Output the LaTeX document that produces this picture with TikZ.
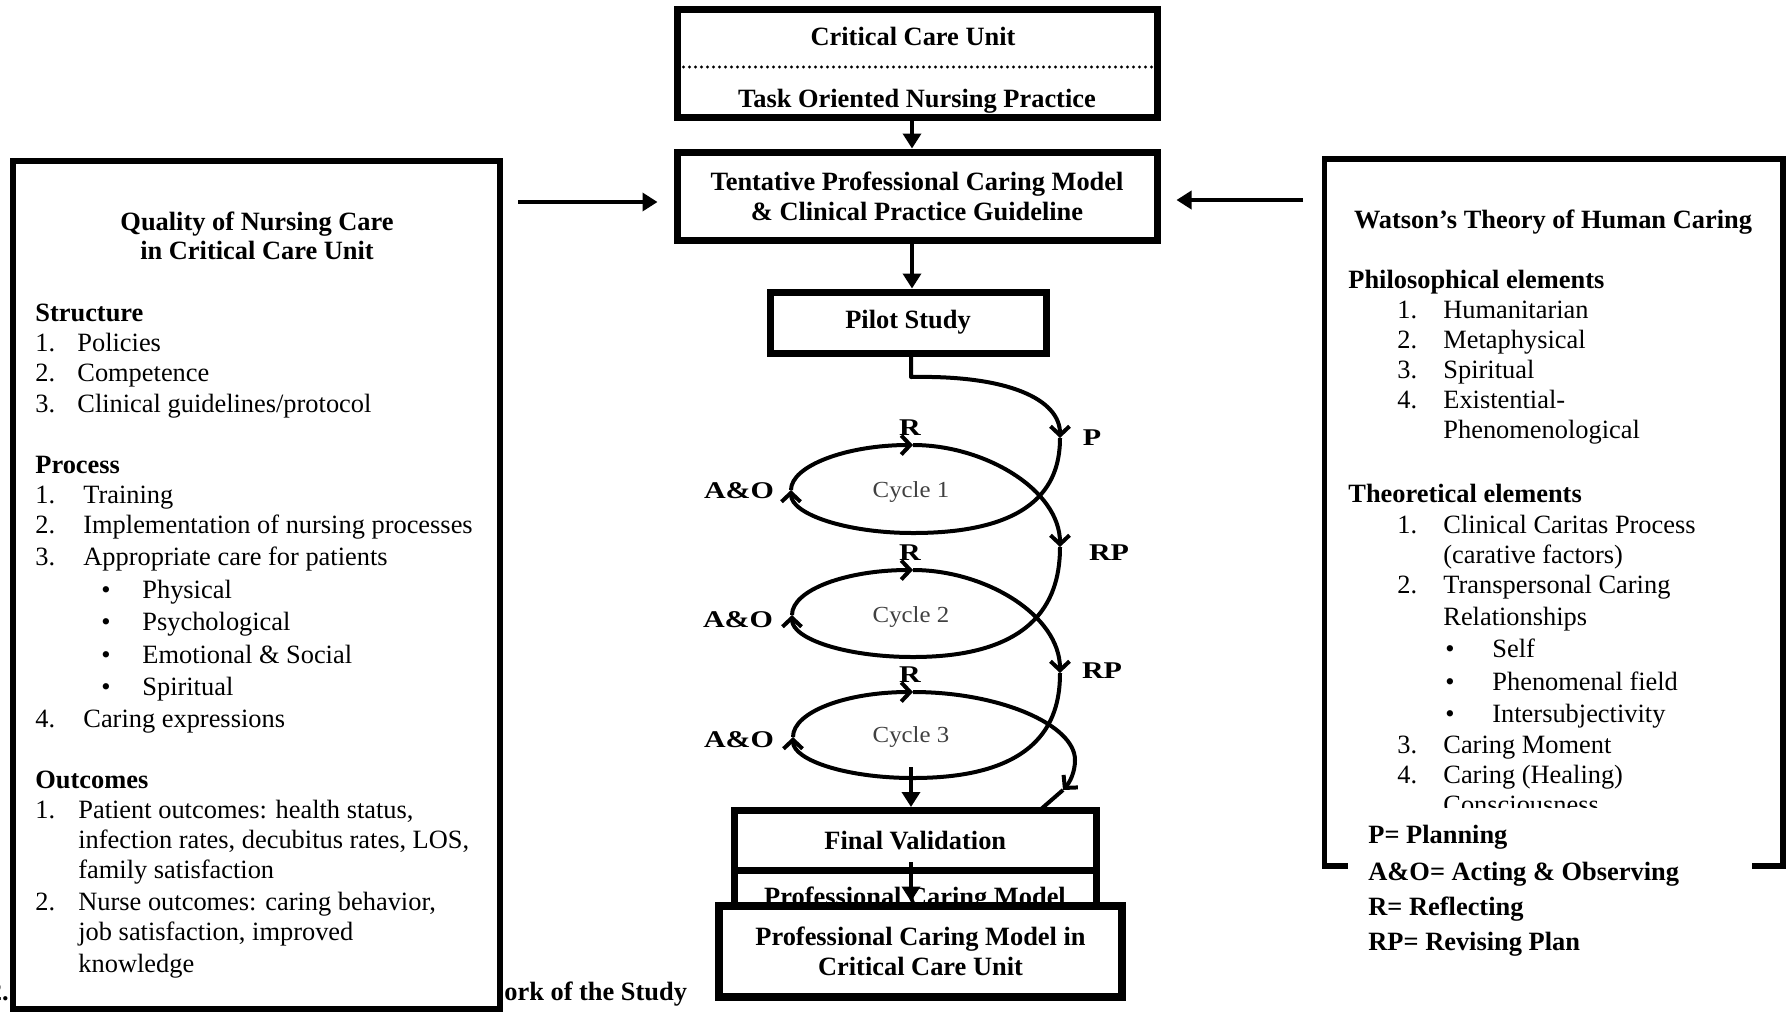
\documentclass[tikz,border=0pt]{standalone}
\usepackage{fontspec}
\setmainfont{Liberation Serif}
\usepackage{graphicx}
\usetikzlibrary{arrows.meta}
\begin{document}
\begin{tikzpicture}[x=0.5pt,y=-0.5pt,
  box/.style={draw, line width=3.5pt, rectangle, inner sep=0pt, align=center, font=\fontsize{13.2}{15}\selectfont\bfseries},
  bigbox/.style={draw, line width=2.75pt, rectangle, inner sep=0pt},
  conn/.style={line width=1.75pt, -{Triangle[length=7.5pt,width=9pt]}},
  spiral/.style={line width=2pt, line join=round},
  barb/.style={spiral, -{Straight Barb[length=4.5pt,width=9.5pt]}},
  txt/.style={anchor=base west, inner sep=0pt, font=\fontsize{13.2}{15.5}\selectfont},
  btxt/.style={anchor=base west, inner sep=0pt, font=\fontsize{13.2}{15.5}\selectfont\bfseries},
  ctxt/.style={anchor=base, inner sep=0pt, font=\fontsize{13.2}{15.5}\selectfont\bfseries},
  bul/.style={anchor=base, inner sep=0pt, font=\fontsize{13.2}{15.5}\selectfont},
  lab/.style={anchor=base, inner sep=0pt, font=\fontsize{12}{12}\selectfont\bfseries},
  cyc/.style={anchor=base, inner sep=0pt, text=black!75, font=\fontsize{11.5}{12}\selectfont},
]
\useasboundingbox (0,0) rectangle (1789,1013);

% caption fragments
\node[btxt, anchor=base east] (cap1) at (9,1000) {2.};
\node[btxt] (cap2) at (504,1000) {ork of the Study};

% ---------------- left box ----------------
\node[bigbox, fill=white, minimum width=243.5pt, minimum height=424pt] (qbox) at (256.5,585) {};
\node[ctxt] (q1) at (257,230) {Quality of Nursing Care};
\node[ctxt] (q2) at (257,259) {in Critical Care Unit};
\node[btxt] (q3) at (35,321) {Structure};
\node[txt] (q4n) at (35,351) {1.};  \node[txt] (q4) at (77,351) {Policies};
\node[txt] (q5n) at (35,381) {2.};  \node[txt] (q5) at (77,381) {Competence};
\node[txt] (q6n) at (35,412) {3.};  \node[txt] (q6) at (77,412) {Clinical guidelines/protocol};
\node[btxt] (q7) at (35,473) {Process};
\node[txt] (q8n) at (35,503) {1.};  \node[txt] (q8) at (83,503) {Training};
\node[txt] (q9n) at (35,533) {2.};  \node[txt] (q9) at (83,533) {Implementation of nursing processes};
\node[txt] (q10n) at (35,565) {3.}; \node[txt] (q10) at (83,565) {Appropriate care for patients};
\node[bul] (q11b) at (106,598) {\textbullet}; \node[txt] (q11) at (142,598) {Physical};
\node[bul] (q12b) at (106,630) {\textbullet}; \node[txt] (q12) at (142,630) {Psychological};
\node[bul] (q13b) at (106,663) {\textbullet}; \node[txt] (q13) at (142,663) {Emotional \& Social};
\node[bul] (q14b) at (106,695) {\textbullet}; \node[txt] (q14) at (142,695) {Spiritual};
\node[txt] (q15n) at (35,727) {4.}; \node[txt] (q15) at (83,727) {Caring expressions};
\node[btxt] (q16) at (35,788) {Outcomes};
\node[txt] (q17n) at (35,818) {1.}; \node[txt] (q17) at (78,818) {Patient outcomes: health status,};
\node[txt] (q18) at (78,848) {infection rates, decubitus rates, LOS,};
\node[txt] (q19) at (78,878) {family satisfaction};
\node[txt] (q20n) at (35,910) {2.}; \node[txt] (q20) at (78,910) {Nurse outcomes: caring behavior,};
\node[txt] (q21) at (78,940) {job satisfaction, improved};
\node[txt] (q22) at (78,972) {knowledge};

% ---------------- right box ----------------
\node[bigbox, minimum width=229.25pt, minimum height=353.5pt] (wbox) at (1553.75,512.5) {};
\node[ctxt] (w0) at (1553,228) {Watson’s Theory of Human Caring};
\node[btxt] (w1) at (1348,288) {Philosophical elements};
\node[txt] (w2n) at (1397,318) {1.}; \node[txt] (w2) at (1443,318) {Humanitarian};
\node[txt] (w3n) at (1397,348) {2.}; \node[txt] (w3) at (1443,348) {Metaphysical};
\node[txt] (w4n) at (1397,378) {3.}; \node[txt] (w4) at (1443,378) {Spiritual};
\node[txt] (w5n) at (1397,408) {4.}; \node[txt] (w5) at (1443,408) {Existential-};
\node[txt] (w6) at (1443,438) {Phenomenological};
\node[btxt] (w7) at (1348,502) {Theoretical elements};
\node[txt] (w8n) at (1397,533) {1.}; \node[txt] (w8) at (1443,533) {Clinical Caritas Process};
\node[txt] (w9) at (1443,563) {(carative factors)};
\node[txt] (w10n) at (1397,593) {2.}; \node[txt] (w10) at (1443,593) {Transpersonal Caring};
\node[txt] (w11) at (1443,625) {Relationships};
\node[bul] (w12b) at (1450,657) {\textbullet}; \node[txt] (w12) at (1492,657) {Self};
\node[bul] (w13b) at (1450,690) {\textbullet}; \node[txt] (w13) at (1492,690) {Phenomenal field};
\node[bul] (w14b) at (1450,722) {\textbullet}; \node[txt] (w14) at (1492,722) {Intersubjectivity};
\node[txt] (w15n) at (1397,753) {3.}; \node[txt] (w15) at (1443,753) {Caring Moment};
\node[txt] (w16n) at (1397,783) {4.}; \node[txt] (w16) at (1443,783) {Caring (Healing)};
\node[txt] (w17) at (1443,813) {Consciousness};

% legend (covers bottom of right box)
\fill[white] (1348,808) rectangle (1752,965);
\node[btxt] (g1) at (1368,843) {P= Planning};
\node[btxt] (g2) at (1368,880) {A\&O= Acting \& Observing};
\node[btxt] (g3) at (1368,915) {R= Reflecting};
\node[btxt] (g4) at (1368,950) {RP= Revising Plan};

% ---------------- centre column ----------------
\node[ctxt] (cc) at (913,45) {Critical Care Unit};
\node[ctxt] (to) at (917,107) {Task Oriented Nursing Practice};
\node[box, minimum width=240pt, minimum height=54pt] (topbox) at (917,63) {};
\draw[line width=1.6pt, line cap=round, dash pattern=on 0pt off 3pt] ([yshift=-2pt,xshift=2pt]topbox.west) -- ([yshift=-2pt]topbox.east);

\node[box, minimum width=240pt, minimum height=44pt] (tent) at (917,196)
  {Tentative Professional Caring Model\\\& Clinical Practice Guideline};
\node[box, minimum width=138pt, minimum height=30.5pt] (pilot) at (908,322.5) {Pilot Study};

\draw[conn] ([xshift=-2.5pt]topbox.south) -- ([xshift=-2.5pt]tent.north);
\draw[conn] ([xshift=-2.5pt]tent.south) -- ([xshift=2pt]pilot.north);

\coordinate (la) at (518,202);
\coordinate (ra) at (1303,200);
\draw[conn, shorten >=8pt] (la) -- (la -| tent.west);
\draw[conn, shorten >=8pt] (ra) -- (ra -| tent.east);

% spiral
\draw[barb] ([xshift=1.5pt]pilot.south) -- (911,377) .. controls (1010,375) and (1060,400) .. (1060,438);
\draw[barb] (1060,438) .. controls (1060,480) and (1040,533) .. (913,533) .. controls (846,533) and (791,514) .. (791,490);
\draw[barb] (791,490) .. controls (791,466) and (846,445) .. (913,445);
\draw[barb] (913,445) .. controls (985,445) and (1060,490) .. (1060,547);
\draw[barb] (1060,547) .. controls (1060,595) and (1040,657) .. (913,657) .. controls (846,657) and (792,639) .. (792,615);
\draw[barb] (792,615) .. controls (792,590) and (846,570) .. (913,570);
\draw[barb] (913,570) .. controls (985,570) and (1060,615) .. (1060,673);
\draw[barb] (1060,673) .. controls (1060,715) and (1045,778) .. (913,778) .. controls (846,778) and (793,760) .. (793,737);
\draw[barb] (793,737) .. controls (793,712) and (846,692) .. (913,692);
\draw[barb] (913,692) .. controls (1000,692) and (1075,725) .. (1075,760) .. controls (1075,772) and (1070,782) .. (1063,790);
\draw[spiral] (1063,790) -- (1040,810);

% spiral labels
\node[lab] (pl) at (1092,445) {\scalebox{1.25}[1]{P}};
\node[lab] (r1) at (910,435) {\scalebox{1.25}[1]{R}};
\node[lab] (r2) at (910,560) {\scalebox{1.25}[1]{R}};
\node[lab] (r3) at (910,682) {\scalebox{1.25}[1]{R}};
\node[lab] (a1) at (739,498) {\scalebox{1.25}[1]{A\&O}};
\node[lab] (a2) at (738,627) {\scalebox{1.25}[1]{A\&O}};
\node[lab] (a3) at (739,747) {\scalebox{1.25}[1]{A\&O}};
\node[lab] (rp1) at (1109,560) {\scalebox{1.25}[1]{RP}};
\node[lab] (rp2) at (1102,678) {\scalebox{1.25}[1]{RP}};
\node[cyc] (cy1) at (911,497) {\scalebox{1.08}[1]{Cycle 1}};
\node[cyc] (cy2) at (911,622) {\scalebox{1.08}[1]{Cycle 2}};
\node[cyc] (cy3) at (911,742) {\scalebox{1.08}[1]{Cycle 3}};

% bottom boxes
\node[box, minimum width=180.75pt, minimum height=29.75pt] (fv) at (915.25,840.25) {Final Validation};
\node[ctxt] (pcmt) at (915,905) {Professional Caring Model};
\node[box, minimum width=180.75pt, minimum height=30pt] (pcm) at (915.25,900) {};
\coordinate (c3) at (911,767);
\draw[conn] (c3) -- (c3 |- fv.north);
\coordinate (fvin) at (911,862);
\node[box, fill=white, line width=4pt, minimum width=201.5pt, minimum height=45.5pt,
  font=\fontsize{13.2}{15}\selectfont\bfseries] (final) at (920.5,951)
  {Professional Caring Model in\\Critical Care Unit};
\draw[conn] (fvin) -- (fvin |- final.north);
\end{tikzpicture}
\end{document}
